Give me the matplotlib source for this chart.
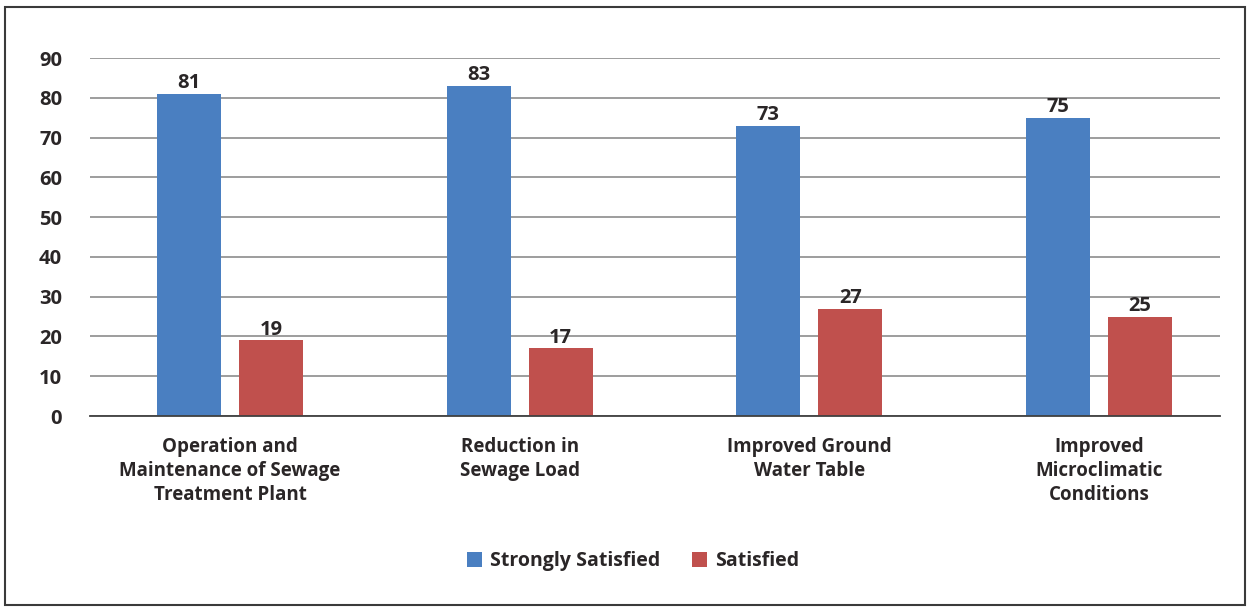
import matplotlib
matplotlib.use("Agg")
import matplotlib.pyplot as plt
import numpy as np
from matplotlib.patches import Rectangle

categories = ["Operation and\nMaintenance of Sewage\nTreatment Plant",
              "Reduction in\nSewage Load",
              "Improved Ground\nWater Table",
              "Improved\nMicroclimatic\nConditions"]
strongly = [81, 83, 73, 75]
satisfied = [19, 17, 27, 25]
series_names = ["Strongly Satisfied", "Satisfied"]
colors = ["#4a7fc1", "#c0504d"]
yticks = [0, 10, 20, 30, 40, 50, 60, 70, 80, 90]

plt.rcParams['font.family'] = ['Open Sans', 'DejaVu Sans']
W, H = 1252, 608
fig = plt.figure(figsize=(W/100, H/100), dpi=100)
ax = fig.add_axes([90/W, 1-416/H, 1130/W, (416-58)/H])

FW = 'bold'
TC = '#2a2627'
x = np.arange(len(categories))
bw = 0.221
off = 0.1415
b1 = ax.bar(x - off, strongly, bw, color=colors[0], label=series_names[0], zorder=3)
b2 = ax.bar(x + off, satisfied, bw, color=colors[1], label=series_names[1], zorder=3)
for bars, vals in ((b1, strongly), (b2, satisfied)):
    for r, v in zip(bars, vals):
        ax.text(r.get_x() + r.get_width()/2, v + 0.1, str(v), ha='center', va='bottom',
                fontsize=14.5, fontweight=FW, color=TC)

ax.set_xlim(-0.483, 3.417)
ax.set_ylim(0, 90)
ax.set_yticks(yticks)
ax.set_yticklabels([str(t) for t in yticks], fontsize=14.5, fontweight=FW, color=TC)
ax.set_xticks(x)
ax.set_xticklabels(categories, fontsize=13.5, fontweight=FW, color=TC, linespacing=1.28)
ax.tick_params(axis='both', length=0)
ax.tick_params(axis='y', pad=20)
ax.tick_params(axis='x', pad=15)
ax.grid(axis='y', color='#8c8c8c', linewidth=1.2, zorder=0)
for s in ['left', 'right', 'top']:
    ax.spines[s].set_visible(False)
ax.spines['bottom'].set_color('#404040')
ax.spines['bottom'].set_linewidth(1.3)
ax.spines['bottom'].set_zorder(4)

leg = fig.legend(handles=[b1, b2], labels=series_names, loc='center',
                 bbox_to_anchor=(633/W, 1-561/H), ncol=2, frameon=False,
                 prop={'size': 14, 'weight': FW}, handlelength=0.8, handleheight=0.8,
                 handletextpad=0.4, columnspacing=1.6)
for t in leg.get_texts():
    t.set_color(TC)

fig.patches.append(Rectangle((5/W, 3/H), (1245-5)/W, (603-5)/H, transform=fig.transFigure,
                             fill=False, edgecolor='#3a3a3a', linewidth=1.5))
fig.savefig("out.png", dpi=100)
